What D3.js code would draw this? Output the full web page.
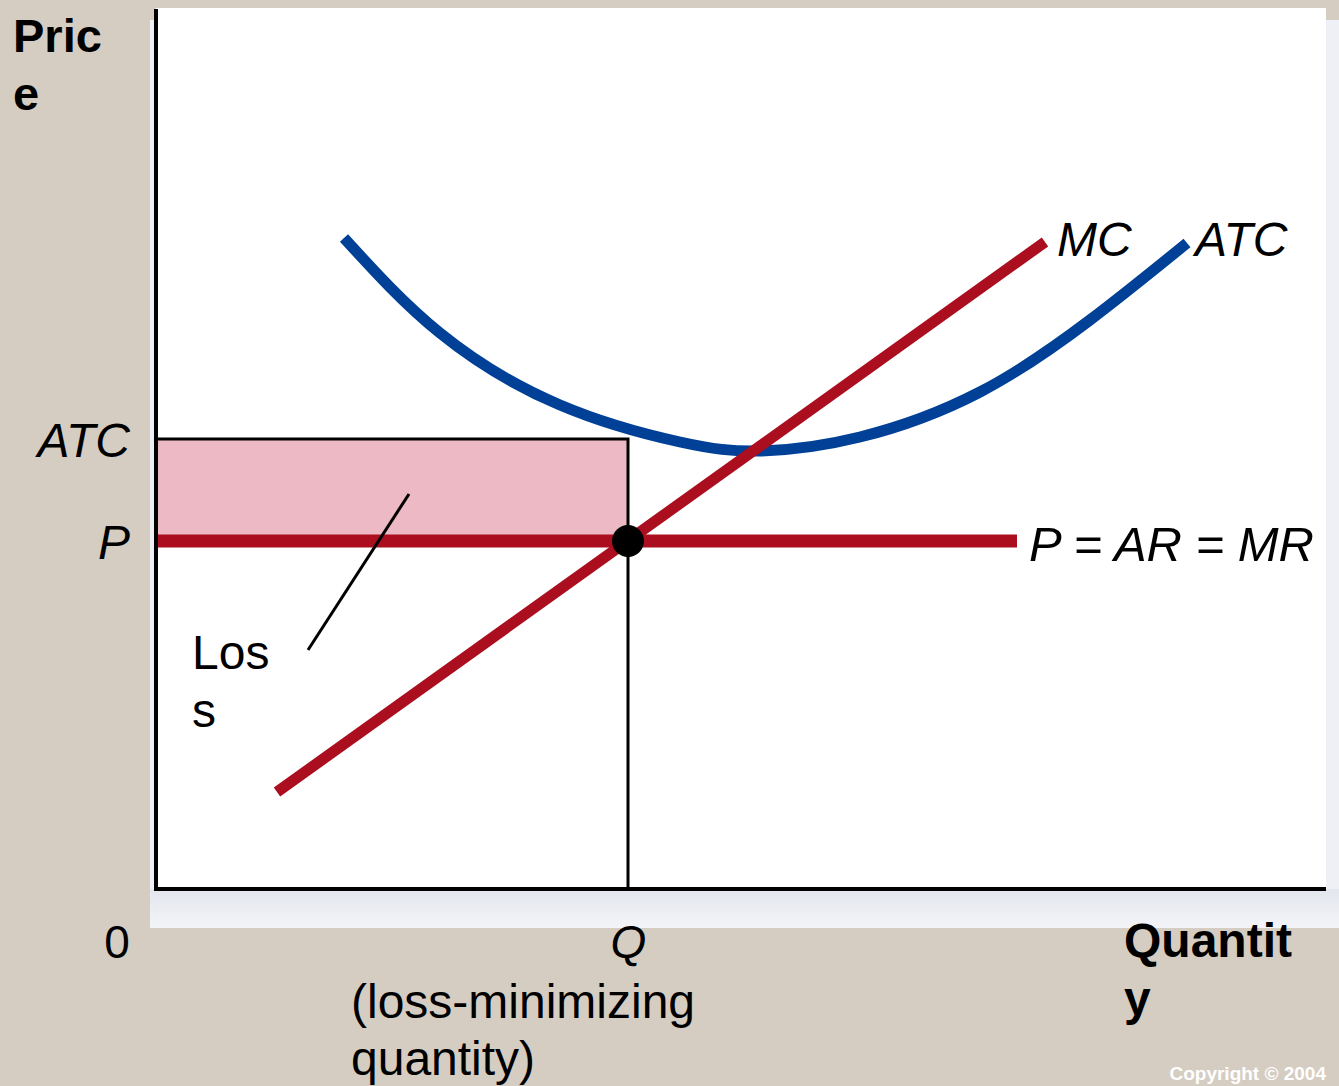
<!DOCTYPE html>
<html>
<head>
<meta charset="utf-8">
<script src="https://cdn.jsdelivr.net/npm/d3@7"></script>
<style>
  body { margin: 0; background: #d5cdc2; }
  svg { display: block; font-family: "Liberation Sans", Arial, sans-serif; }
</style>
</head>
<body>
<svg></svg>
<script>
// размеры
const width = 1339;
const height = 1086;

// данные графика (в условных единицах)
const atcCurve = [
  [18.8, 65.1], [28.4, 55.6], [40.4, 48.4], [52.4, 44.7], [60.4, 43.8],
  [70.4, 45.2], [82.4, 49.7], [93.4, 56.9], [103.1, 64.6]
];
const mcLine = [[12.1, 9.7], [88.9, 64.7]];
const priceLine = [[0.1, 34.8], [86.1, 34.8]];
const priceLevel = 34.8;
const atcLevel = 45.0;
const quantity = 47.2;
const lossPointer = [[25.3, 39.5], [15.2, 23.9]];

const yTickValues = [atcLevel, priceLevel];
const yTickLabels = ["ATC", "P"];
const xTickValues = [0, quantity];
const xTickLabels = ["0", "Q"];

let svg = d3.select("svg")
    .attr("width", width)
    .attr("height", height);

const x = d3.scaleLinear().domain([0, 117]).range([156, 1326]);
const y = d3.scaleLinear().domain([0, 88]).range([889, 9]);

// фон-подложка с тенью
let defs = svg.append("defs");
let grad = defs.append("linearGradient")
    .attr("id", "shade")
    .attr("x1", 0).attr("y1", 0).attr("x2", 0).attr("y2", 1);
grad.append("stop").attr("offset", "0%").attr("stop-color", "#e3e6ee");
grad.append("stop").attr("offset", "100%").attr("stop-color", "#f3f4f7");

svg.append("rect")
    .attr("x", 150).attr("y", 20)
    .attr("width", width - 150).attr("height", 908)
    .attr("fill", "#eef0f5");
svg.append("rect")
    .attr("x", 150).attr("y", 889)
    .attr("width", width - 150).attr("height", 39)
    .attr("fill", "url(#shade)");

// белая область графика
svg.append("rect")
    .attr("x", x(0)).attr("y", 8)
    .attr("width", x(117) - x(0)).attr("height", y(0) - 8)
    .attr("fill", "white");

// убыток
svg.append("rect")
    .attr("x", x(0))
    .attr("y", y(atcLevel))
    .attr("width", x(quantity) - x(0))
    .attr("height", y(priceLevel) - y(atcLevel))
    .attr("fill", "#edb9c4");

const line = d3.line()
    .x(d => x(d[0]))
    .y(d => y(d[1]));

// линии ATC и Q
svg.append("path")
    .attr("d", line([[0, atcLevel], [quantity, atcLevel], [quantity, 0]]))
    .attr("fill", "none")
    .attr("stroke", "black")
    .attr("stroke-width", 3);

// кривая ATC
svg.append("path")
    .attr("d", line.curve(d3.curveNatural)(atcCurve))
    .attr("fill", "none")
    .attr("stroke", "#004097")
    .attr("stroke-width", 11);
line.curve(d3.curveLinear);

// P = AR = MR
svg.append("path")
    .attr("d", line(priceLine))
    .attr("fill", "none")
    .attr("stroke", "#ab0e1e")
    .attr("stroke-width", 13);

// MC
svg.append("path")
    .attr("d", line(mcLine))
    .attr("fill", "none")
    .attr("stroke", "#ab0e1e")
    .attr("stroke-width", 11);

// указатель на убыток
svg.append("path")
    .attr("d", line(lossPointer))
    .attr("stroke", "black")
    .attr("stroke-width", 3);

// точка равновесия
svg.append("circle")
    .attr("cx", x(quantity))
    .attr("cy", y(priceLevel))
    .attr("r", 16)
    .attr("fill", "black");

// оси
svg.append("path")
    .attr("d", line([[0, 88], [0, 0], [117, 0]]))
    .attr("fill", "none")
    .attr("stroke", "black")
    .attr("stroke-width", 4);

// подписи делений
let yAxis = svg.append("g")
    .attr("transform", `translate(${x(0) - 26},0)`)
    .call(d3.axisLeft(y).tickValues(yTickValues)
        .tickFormat((d, i) => yTickLabels[i]).tickSize(0).tickPadding(0));
yAxis.select(".domain").remove();
yAxis.selectAll("text")
    .attr("font-size", 48)
    .attr("font-style", "italic")
    .attr("font-family", "Liberation Sans, Arial, sans-serif")
    .attr("fill", "black")
    .attr("dy", "0.36em");

let xAxis = svg.append("g")
    .attr("transform", `translate(0,${y(0)})`)
    .call(d3.axisBottom(x).tickValues(xTickValues)
        .tickFormat((d, i) => xTickLabels[i]).tickSize(0).tickPadding(0));
xAxis.select(".domain").remove();
xAxis.selectAll("text")
    .attr("font-size", 46)
    .attr("font-family", "Liberation Sans, Arial, sans-serif")
    .attr("fill", "black")
    .attr("dy", null)
    .attr("y", 69)
    .attr("font-style", (d, i) => i == 1 ? "italic" : "normal");
xAxis.selectAll(".tick").filter(d => d == 0)
    .attr("transform", `translate(${x(0) - 39},0)`);

// текстовые подписи
function addText(str, px, py, opts = {}) {
    return svg.append("text")
        .attr("x", px).attr("y", py)
        .attr("font-size", opts.size || 48)
        .attr("font-weight", opts.bold ? "bold" : "normal")
        .attr("font-style", opts.italic ? "italic" : "normal")
        .attr("text-anchor", opts.anchor || "start")
        .attr("fill", opts.color || "black")
        .text(str);
}

addText("Pric", 13, 52, {bold: true, size: 47});
addText("e", 13, 110, {bold: true, size: 47});
addText("Quantit", 1124, 957, {bold: true});
addText("y", 1124, 1015, {bold: true});
addText("(loss-minimizing", 351, 1018);
addText("quantity)", 351, 1075);
addText("Los", 192, 669);
addText("s", 192, 727);
addText("MC", x(88.9) + 12, 256, {italic: true});
addText("ATC", x(103.1) + 8, 256, {italic: true});
addText("P = AR = MR", x(86.1) + 12, 561, {italic: true, size: 49});
addText("Copyright © 2004", 1326, 1080, {size: 19, bold: true, anchor: "end", color: "white"});
</script>
</body>
</html>
